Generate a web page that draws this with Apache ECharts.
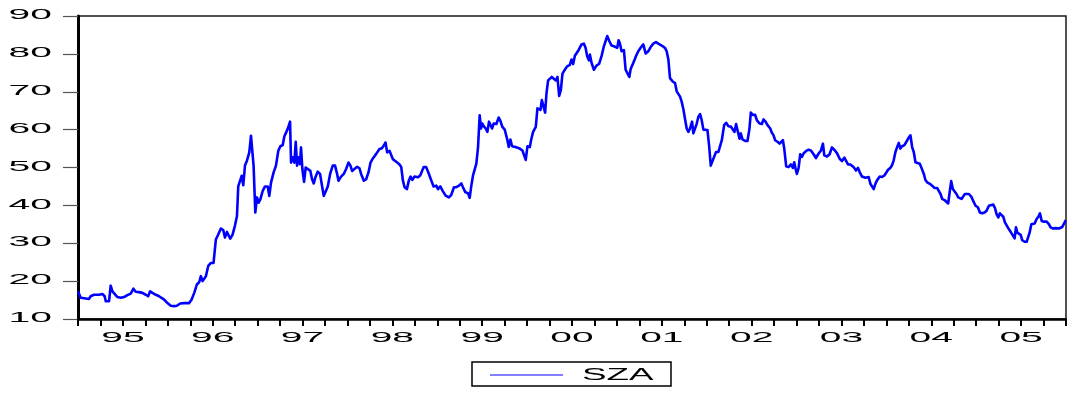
<!DOCTYPE html>
<html>
<head>
<meta charset="utf-8">
<script src="https://cdn.jsdelivr.net/npm/echarts@6/dist/echarts.min.js"></script>
<style>
  html, body { margin: 0; padding: 0; background: #fff; }
  #chart { width: 1067px; height: 394px; }
</style>
</head>
<body>
<div id="chart"></div>
<script>
// Series name and axis settings
const seriesName = 'SZA';
const startYear = 1995;
const endYear = 2006;
const yTicks = [10, 20, 30, 40, 50, 60, 70, 80, 90];
const yearLabels = ['95', '96', '97', '98', '99', '00', '01', '02', '03', '04', '05'];

// Observation times, in years since the start of 1995
const t = [
  0.000, 0.030, 0.048, 0.123, 0.141, 0.178, 0.197, 0.234, 0.271, 0.297, 0.309, 0.346,
  0.364, 0.383, 0.401, 0.439, 0.476, 0.513, 0.550, 0.587, 0.617, 0.643, 0.680, 0.717,
  0.755, 0.781, 0.803, 0.829, 0.866, 0.903, 0.929, 0.959, 0.996, 1.033, 1.071, 1.100,
  1.138, 1.182, 1.238, 1.264, 1.294, 1.323, 1.349, 1.368, 1.387, 1.405, 1.424, 1.450,
  1.480, 1.509, 1.535, 1.561, 1.591, 1.617, 1.636, 1.658, 1.677, 1.695, 1.721, 1.747,
  1.770, 1.784, 1.803, 1.822, 1.840, 1.859, 1.881, 1.907, 1.926, 1.944, 1.955, 1.974,
  1.993, 2.011, 2.030, 2.056, 2.082, 2.112, 2.130, 2.149, 2.178, 2.204, 2.230, 2.253,
  2.279, 2.297, 2.335, 2.361, 2.372, 2.390, 2.409, 2.424, 2.439, 2.454, 2.472, 2.483,
  2.498, 2.517, 2.535, 2.558, 2.587, 2.606, 2.625, 2.643, 2.669, 2.695, 2.714, 2.736,
  2.751, 2.781, 2.807, 2.836, 2.862, 2.885, 2.900, 2.929, 2.959, 2.985, 3.011, 3.033,
  3.052, 3.078, 3.108, 3.134, 3.152, 3.182, 3.208, 3.234, 3.257, 3.283, 3.320, 3.357,
  3.383, 3.405, 3.424, 3.442, 3.468, 3.487, 3.506, 3.543,
  3.580, 3.599, 3.617, 3.636, 3.662, 3.684, 3.703, 3.721, 3.747, 3.784, 3.810, 3.848,
  3.877, 3.907, 3.933, 3.959, 3.989, 4.008, 4.034, 4.063, 4.093, 4.130, 4.156, 4.186,
  4.212, 4.242, 4.268, 4.286, 4.312, 4.342, 4.361, 4.379, 4.398, 4.416, 4.435, 4.454,
  4.472, 4.487, 4.502, 4.517, 4.539, 4.558, 4.576, 4.591, 4.610, 4.628, 4.658, 4.684,
  4.703, 4.725, 4.751, 4.777, 4.796, 4.814, 4.833, 4.851, 4.870, 4.889, 4.918, 4.948,
  4.967, 4.985, 5.004, 5.030, 5.048, 5.067, 5.097, 5.115, 5.134, 5.149, 5.164, 5.186,
  5.201, 5.216, 5.234, 5.253, 5.275, 5.297, 5.320, 5.338, 5.357, 5.376, 5.394, 5.420,
  5.446, 5.476, 5.494, 5.513, 5.532, 5.550, 5.576, 5.606, 5.632, 5.651, 5.669, 5.688,
  5.699, 5.718, 5.744, 5.773, 5.803, 5.829, 5.855, 5.877, 5.892, 5.915, 5.941, 5.967,
  5.989, 6.004, 6.019, 6.034, 6.052, 6.078, 6.097, 6.119, 6.138, 6.153, 6.182, 6.212,
  6.238, 6.264, 6.294, 6.320, 6.350, 6.376, 6.405, 6.435, 6.461, 6.480, 6.498, 6.517,
  6.535, 6.554, 6.573, 6.591, 6.621, 6.647, 6.666, 6.684, 6.703, 6.721, 6.740, 6.758,
  6.777, 6.796, 6.814, 6.837, 6.851, 6.870, 6.889, 6.907, 6.926, 6.944, 6.963, 6.981,
  7.008, 7.026, 7.045, 7.063, 7.082, 7.104, 7.130,
  7.149, 7.168, 7.194, 7.216, 7.242, 7.268, 7.290, 7.309, 7.327, 7.346, 7.365, 7.379,
  7.398, 7.428, 7.454, 7.476, 7.491, 7.513, 7.539, 7.558, 7.588, 7.614, 7.632, 7.655,
  7.677, 7.707, 7.725, 7.744, 7.762, 7.788, 7.811, 7.829, 7.848, 7.863, 7.885, 7.911,
  7.937, 7.959, 7.974, 7.989, 8.004, 8.023, 8.041, 8.060, 8.078, 8.108, 8.134, 8.160,
  8.190, 8.216, 8.246, 8.272, 8.294, 8.309, 8.339, 8.368, 8.394, 8.420, 8.450, 8.480,
  8.506, 8.532, 8.554, 8.573, 8.599, 8.617, 8.636, 8.662, 8.684, 8.703, 8.729, 8.766,
  8.803, 8.822, 8.840, 8.859, 8.878, 8.896, 8.926, 8.952, 8.978, 9.000, 9.019, 9.045,
  9.063, 9.082, 9.101, 9.119, 9.138, 9.156, 9.175, 9.201, 9.223, 9.249, 9.268, 9.287,
  9.305, 9.324, 9.342, 9.372, 9.391, 9.417, 9.435, 9.454, 9.484, 9.510, 9.536, 9.565,
  9.584, 9.603, 9.621, 9.647, 9.669, 9.688, 9.707, 9.722, 9.740, 9.759, 9.781, 9.800,
  9.818, 9.837, 9.855, 9.874, 9.893, 9.919, 9.945, 9.967, 9.993, 10.019, 10.041, 10.067,
  10.093, 10.116, 10.142, 10.160, 10.190, 10.209, 10.227, 10.246, 10.264, 10.283, 10.302, 10.320,
  10.339, 10.357, 10.376, 10.394, 10.413, 10.428, 10.443, 10.458, 10.476, 10.495, 10.513, 10.539,
  10.562, 10.577, 10.595, 10.614, 10.632, 10.651, 10.673, 10.692, 10.710, 10.729, 10.755, 10.785,
  10.811, 10.829, 10.855, 10.885, 10.904, 10.922, 10.941, 10.959, 10.985, 10.997
];

// SZA level at each observation time
const sza = [
  17.3, 15.6, 15.3, 15.3, 16.0, 16.4, 16.0, 16.4, 16.6, 16.0, 14.7, 14.7,
  18.8, 17.3, 17.1, 15.8, 15.6, 15.8, 16.3, 16.7, 18.0, 17.2, 17.1, 16.9,
  16.4, 16.0, 17.3, 16.9, 16.4, 16.0, 15.6, 15.1, 14.2, 13.5, 13.4, 13.5,
  14.1, 14.2, 14.2, 15.1, 16.9, 19.1, 19.7, 21.3, 20.0, 19.7, 21.3, 24.0,
  24.8, 24.8, 31.0, 32.3, 33.9, 33.5, 31.5, 33.0, 33.2, 31.2, 32.3, 34.6,
  37.2, 45.0, 45.2, 47.8, 45.3, 50.5, 51.8, 54.0, 58.4, 58.7, 50.5, 38.1,
  42.1, 40.7, 41.6, 43.8, 45.0, 45.0, 42.5, 46.0, 48.7, 50.5, 54.4, 55.6,
  55.9, 58.2, 60.2, 62.1, 51.3, 52.7, 51.3, 56.8, 50.5, 52.7, 50.9, 55.3,
  49.6, 46.2, 50.0, 49.6, 49.1, 46.9, 45.8, 47.4, 48.9, 48.3, 45.6, 42.5,
  42.3, 45.0, 48.3, 50.5, 50.5, 48.3, 46.5, 47.6, 48.3, 49.6, 51.3, 50.5,
  49.1, 49.6, 50.2, 49.8, 48.3, 46.5, 46.9, 48.7, 51.3, 52.4, 53.6, 54.9,
  55.1, 55.8, 56.6, 54.0, 54.4, 54.0, 52.2, 51.5,
  50.8, 50.1, 46.6, 44.8, 44.3, 46.6, 47.6, 46.7, 47.6, 47.4, 47.9, 50.1,
  50.1, 48.3, 46.6, 45.0, 45.2, 44.3, 45.0, 43.7, 42.6, 42.1, 42.8, 44.8,
  44.8, 45.2, 45.8, 44.8, 43.5, 43.2, 42.0, 45.2, 47.9, 47.9, 51.0, 55.4,
  63.8, 60.3, 61.6, 60.9, 60.3, 59.4, 62.1, 62.5, 60.3, 61.6, 61.5, 63.2,
  62.3, 60.7, 60.0, 57.6, 55.4, 57.4, 55.6, 56.1, 55.4, 55.9, 55.0, 54.5,
  54.7, 52.0, 55.6, 55.4, 57.6, 59.4, 60.7, 65.6, 65.9, 65.2, 67.8, 67.8,
  64.5, 69.6, 73.0, 73.3, 73.9, 73.6, 73.0, 73.9, 68.9, 70.5, 74.8, 75.8,
  76.7, 77.1, 78.5, 77.3, 79.5, 79.8, 81.1, 82.5, 82.7, 81.6, 79.4, 78.3,
  79.8, 77.6, 75.8, 76.9, 77.4, 79.4, 82.0, 83.6, 84.7, 83.4, 82.2, 82.0,
  82.2, 81.6, 83.6, 82.7, 80.7, 81.0, 75.8, 75.4, 73.9, 76.0, 77.6, 79.4,
  80.7, 81.6, 82.5, 80.1, 80.7, 81.8, 82.7, 83.1, 82.7, 83.1, 82.2, 82.5,
  81.6, 80.7, 78.5, 73.6, 72.7, 72.3, 70.1, 70.3, 68.7, 67.4, 65.4, 65.0,
  60.3, 59.4, 60.3, 62.1, 59.0, 59.0, 61.6, 63.4, 64.1, 62.5, 60.0, 59.9,
  59.9, 55.9, 50.5, 50.8, 52.8, 54.1, 54.1,
  54.5, 57.2, 61.2, 61.8, 60.9, 60.8, 60.6, 59.4, 61.5, 61.2, 57.6, 59.0,
  57.4, 57.0, 57.0, 60.3, 64.5, 63.9, 63.9, 62.5, 61.6, 61.5, 62.7, 62.1,
  61.2, 60.3, 59.2, 58.5, 57.2, 56.8, 56.3, 56.5, 57.2, 55.0, 50.3, 50.1,
  50.8, 49.9, 51.4, 49.7, 48.3, 49.9, 53.5, 52.8, 53.7, 54.4, 54.7, 54.5,
  53.5, 52.5, 53.7, 54.5, 56.3, 53.2, 52.9, 53.5, 55.3, 54.7, 53.8, 52.3,
  51.7, 52.6, 52.3, 50.8, 50.8, 51.2, 50.1, 49.2, 49.9, 48.8, 47.6, 47.3,
  47.5, 45.7, 45.2, 44.3, 45.7, 46.6, 47.6, 47.5, 47.9, 47.5, 49.4, 49.9,
  50.6, 51.9, 54.1, 55.3, 56.5, 55.0, 55.6, 55.9, 56.8, 57.9, 58.5, 55.4,
  54.1, 51.4, 51.2, 51.0, 49.9, 48.3, 46.7, 46.1, 45.7, 45.2, 44.6, 44.6,
  44.1, 43.0, 41.7, 41.4, 41.7, 40.5, 43.9, 46.4, 44.3, 43.9, 43.0, 42.1,
  42.6, 41.7, 41.4, 43.0, 43.5, 43.0, 42.3, 41.2, 39.9, 39.5, 38.1, 37.9,
  38.1, 38.6, 39.9, 40.4, 40.2, 39.3, 37.7, 36.8, 37.9, 38.1, 37.0, 35.5,
  35.0, 34.0, 33.3, 32.6, 32.2, 31.3, 34.2, 32.8, 32.8, 32.2, 30.8, 30.4,
  30.4, 31.5, 32.8, 35.0, 34.9, 35.2, 36.4, 37.0, 37.9, 35.9, 35.7, 35.7,
  35.0, 34.2, 33.9, 34.0, 34.3, 33.9, 33.4, 34.3, 35.5, 36.1
];

const points = t.map((v, i) => [startYear + v, sza[i]]);

const chart = echarts.init(document.getElementById('chart'), null, { renderer: 'canvas' });

const labelFont = '15px "Liberation Sans", Arial, sans-serif';
const labelStretch = 2.6;

chart.setOption({
  animation: false,
  backgroundColor: '#ffffff',
  grid: {
    left: 78, right: 1, top: 16, bottom: 75,
    show: true, borderColor: '#1a1a1a', borderWidth: 1.5, backgroundColor: 'transparent'
  },
  xAxis: {
    type: 'value',
    min: startYear, max: endYear, interval: 0.25,
    axisLine: { show: true, onZero: false, lineStyle: { color: '#000', width: 2.5 } },
    axisTick: { show: true, inside: false, length: 7, lineStyle: { color: '#000', width: 2 } },
    axisLabel: { show: false },
    splitLine: { show: false }
  },
  yAxis: {
    type: 'value',
    min: yTicks[0], max: yTicks[yTicks.length - 1], interval: 10,
    axisLine: { show: true, onZero: false, lineStyle: { color: '#000', width: 3 } },
    axisTick: { show: true, inside: false, length: 15, lineStyle: { color: '#555', width: 1.2 } },
    axisLabel: { show: false },
    splitLine: { show: false }
  },
  series: [{
    name: seriesName,
    type: 'line',
    data: points,
    showSymbol: false,
    symbol: 'none',
    lineStyle: { color: '#0000ff', width: 2.6, join: 'round' },
    itemStyle: { color: '#0000ff' }
  }]
});

// Tick labels and the legend are drawn as stretched text, placed through the axis scales
const graphics = [];
yTicks.forEach(v => {
  const py = chart.convertToPixel({ gridIndex: 0 }, [startYear, v])[1];
  graphics.push({
    type: 'text', x: 52, y: py - 1, scaleX: labelStretch, scaleY: 1,
    style: { text: String(v), font: labelFont, fill: '#000',
             align: 'right', verticalAlign: 'middle', textAlign: 'right', textVerticalAlign: 'middle' }
  });
});
yearLabels.forEach((lab, i) => {
  const px = chart.convertToPixel({ gridIndex: 0 }, [startYear + i + 0.5, yTicks[0]])[0];
  graphics.push({
    type: 'text', x: px, y: 337.5, scaleX: labelStretch, scaleY: 1,
    style: { text: lab, font: labelFont, fill: '#000',
             align: 'center', verticalAlign: 'middle', textAlign: 'center', textVerticalAlign: 'middle' }
  });
});
// Legend box
graphics.push({
  type: 'rect', shape: { x: 472, y: 362, width: 199, height: 24 },
  style: { fill: '#fff', stroke: '#000', lineWidth: 1.5 }
});
graphics.push({
  type: 'line', shape: { x1: 490, y1: 375, x2: 563, y2: 375 },
  style: { stroke: '#0000ff', lineWidth: 1 }
});
graphics.push({
  type: 'text', x: 582, y: 375.5, scaleX: 2.3, scaleY: 1,
  style: { text: seriesName, font: '16px "Liberation Sans", Arial, sans-serif', fill: '#000',
           align: 'left', verticalAlign: 'middle', textAlign: 'left', textVerticalAlign: 'middle' }
});

chart.setOption({ graphic: { elements: graphics } });
</script>
</body>
</html>
